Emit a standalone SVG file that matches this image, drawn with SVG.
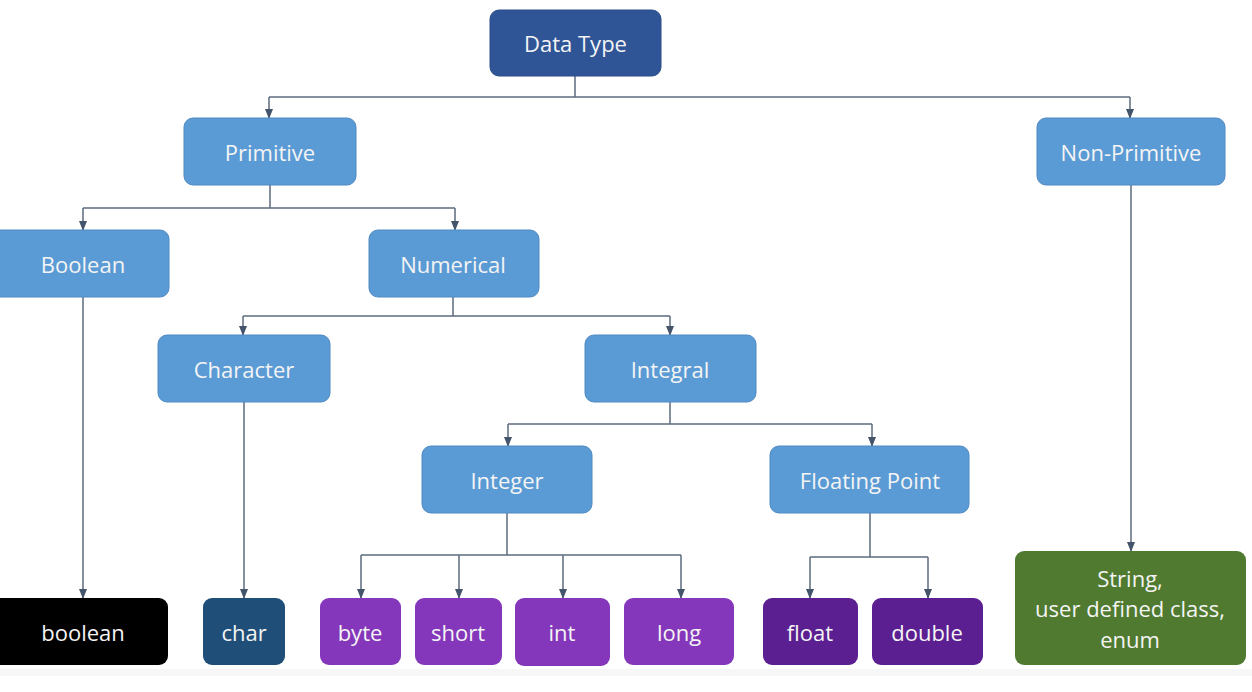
<svg xmlns="http://www.w3.org/2000/svg" width="1252" height="692" viewBox="0 0 1252 692">
<defs>
<marker id="ah" markerWidth="10" markerHeight="8" refX="9" refY="4" orient="auto" markerUnits="userSpaceOnUse">
<path d="M0,0 L10,4 L0,8 Z" fill="#44546a"/>
</marker>
<style>
.n rect{rx:9;ry:9}
.lb rect{fill:#5b9bd5;stroke:#4f8ac2;stroke-width:1}
.t{font-family:"Open Sans","Liberation Sans",sans-serif;font-size:22px;fill:#f4f4f4;text-anchor:middle;dominant-baseline:central}
.c path{fill:none;stroke:#5d6b7e;stroke-width:1.5}
.c path.a{marker-end:url(#ah)}
</style>
</defs>
<rect width="1252" height="692" fill="#ffffff"/>
<rect x="0" y="669" width="1252" height="7" fill="#f7f7f7"/>
<g class="c" id="connectors">
<path d="M575,76 V97"/>
<path d="M269,97 H1130"/>
<path class="a" d="M269,97 V118"/>
<path class="a" d="M1130,97 V118"/>
<path d="M270,185 V208"/>
<path d="M83,208 H455"/>
<path class="a" d="M83,208 V230"/>
<path class="a" d="M455,208 V230"/>
<path d="M453,297 V316"/>
<path d="M243,316 H670"/>
<path class="a" d="M243,316 V335"/>
<path class="a" d="M670,316 V335"/>
<path d="M670,402 V424"/>
<path d="M508,424 H872"/>
<path class="a" d="M508,424 V446"/>
<path class="a" d="M872,424 V446"/>
<path class="a" d="M83,297 V598"/>
<path class="a" d="M244,402 V598"/>
<path class="a" d="M1131,185 V551"/>
<path d="M507,513 V555"/>
<path d="M361,555 H681"/>
<path class="a" d="M361,555 V598"/>
<path class="a" d="M459,555 V598"/>
<path class="a" d="M563,555 V598"/>
<path class="a" d="M681,555 V598"/>
<path d="M870,513 V557"/>
<path d="M810,557 H928"/>
<path class="a" d="M810,557 V598"/>
<path class="a" d="M928,557 V598"/>
</g>
<g class="n" id="datatype"><rect x="490" y="10" width="171" height="66" fill="#2f5597" stroke="#2a4d88"/><text class="t" x="575.5" y="43">Data Type</text></g>
<g class="n lb" id="primitive"><rect x="184" y="118" width="172" height="67"/><text class="t" x="270" y="152">Primitive</text></g>
<g class="n lb" id="nonprimitive"><rect x="1037" y="118" width="188" height="67"/><text class="t" x="1131" y="152">Non-Primitive</text></g>
<g class="n lb" id="boolean-cat"><rect x="-10" y="230" width="179" height="67"/><text class="t" x="83" y="264">Boolean</text></g>
<g class="n lb" id="numerical"><rect x="369" y="230" width="170" height="67"/><text class="t" x="453" y="264">Numerical</text></g>
<g class="n lb" id="character"><rect x="158" y="335" width="172" height="67"/><text class="t" x="244" y="369">Character</text></g>
<g class="n lb" id="integral"><rect x="585" y="335" width="171" height="67"/><text class="t" x="670" y="369">Integral</text></g>
<g class="n lb" id="integer"><rect x="422" y="446" width="170" height="67"/><text class="t" x="507" y="480">Integer</text></g>
<g class="n lb" id="floatingpoint"><rect x="770" y="446" width="199" height="67"/><text class="t" x="870" y="480">Floating Point</text></g>
<g class="n" id="boolean"><rect x="-10" y="598" width="178" height="67" fill="#000000"/><text class="t" x="83" y="632">boolean</text></g>
<g class="n" id="char"><rect x="203" y="598" width="82" height="67" fill="#1f4e79"/><text class="t" x="244" y="632">char</text></g>
<g class="n" id="byte"><rect x="320" y="598" width="81" height="67" fill="#8537bb"/><text class="t" x="360" y="632">byte</text></g>
<g class="n" id="short"><rect x="415" y="598" width="87" height="67" fill="#8537bb"/><text class="t" x="458" y="632">short</text></g>
<g class="n" id="int"><rect x="515" y="598" width="95" height="68" fill="#8537bb"/><text class="t" x="562" y="632">int</text></g>
<g class="n" id="long"><rect x="624" y="598" width="110" height="67" fill="#8537bb"/><text class="t" x="679" y="632">long</text></g>
<g class="n" id="float"><rect x="763" y="598" width="95" height="67" fill="#5b1f91"/><text class="t" x="810" y="632">float</text></g>
<g class="n" id="double"><rect x="872" y="598" width="111" height="67" fill="#5b1f91"/><text class="t" x="927" y="632">double</text></g>
<g class="n" id="nonprim-types"><rect x="1015" y="551" width="231" height="114" fill="#4f7a2f"/><text class="t" x="1130" y="578">String,</text><text class="t" x="1130" y="608">user defined class,</text><text class="t" x="1130" y="639">enum</text></g>
</svg>
